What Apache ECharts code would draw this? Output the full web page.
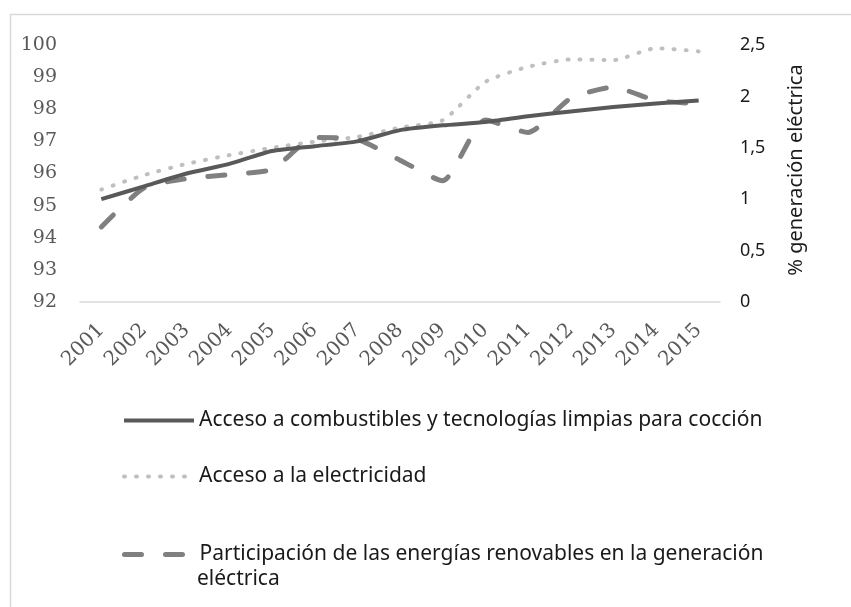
<!DOCTYPE html>
<html>
<head>
<meta charset="utf-8">
<script src="https://cdn.jsdelivr.net/npm/echarts@6/dist/echarts.min.js"></script>
<style>
  html, body { margin: 0; padding: 0; background: #fff; }
  #main { width: 851px; height: 607px; }
</style>
</head>
<body>
<div id="main"></div>
<script>
var years = ['2001','2002','2003','2004','2005','2006','2007','2008','2009','2010','2011','2012','2013','2014','2015'];
// % acceso (eje izquierdo)
var coccion = [95.2, 95.6, 96.0, 96.3, 96.7, 96.85, 97.0, 97.35, 97.5, 97.6, 97.78, 97.93, 98.07, 98.18, 98.27];
var electricidad = [95.5, 95.95, 96.3, 96.57, 96.8, 96.99, 97.14, 97.43, 97.66, 98.85, 99.32, 99.55, 99.53, 99.9, 99.8];
// % generación eléctrica (eje derecho)
var renovables = [0.73, 1.11, 1.2, 1.24, 1.29, 1.6, 1.58, 1.38, 1.18, 1.77, 1.65, 1.98, 2.09, 1.96, 1.93];
var leftTicks = [92, 100, 1];
var rightTicks = [0, 2.5, 0.5];

var names = [
  'Acceso a combustibles y tecnologías limpias para cocción',
  'Acceso a la electricidad',
  'Participación de las energías renovables en la generación eléctrica'
];

var chart = echarts.init(document.getElementById('main'));

var legendText = {
  fontFamily: 'Noto Sans',
  fontSize: 21,
  color: '#1a1a1a'
};

function legendBox(name, top, w, fmt) {
  return {
    data: [name], left: 122, top: top, itemWidth: 70, itemHeight: 14,
    itemGap: 0, padding: 0, textStyle: legendText,
    itemStyle: { opacity: 0 },
    lineStyle: { width: w },
    formatter: fmt
  };
}

option = {
  animation: false,
  grid: { left: 80, right: 131, top: 45, bottom: 305 },
  legend: [
    legendBox(names[0], 410, 4),
    legendBox(names[1], 466, 4),
    legendBox(names[2], 544, 5, function () {
      return 'Participación de las energías renovables en la generación';
    })
  ],
  graphic: [
    { type: 'line', shape: { x1: 10.5, y1: 14, x2: 10.5, y2: 607 }, style: { stroke: '#d9d9d9', lineWidth: 1.5 } },
    { type: 'line', shape: { x1: 10, y1: 14.5, x2: 851, y2: 14.5 }, style: { stroke: '#d9d9d9', lineWidth: 1.5 } },
    {
      type: 'text', left: 197, top: 569,
      style: { text: 'eléctrica', fontFamily: 'Noto Sans', fontSize: 21, fill: '#1a1a1a' }
    }
  ],
  xAxis: {
    type: 'category',
    data: years,
    boundaryGap: true,
    axisLine: { lineStyle: { color: '#d9d9d9', width: 1.5 } },
    axisTick: { show: false },
    axisLabel: {
      rotate: 45, margin: 25, color: '#595959',
      fontFamily: 'DejaVu Serif', fontSize: 20, interval: 0
    }
  },
  yAxis: [
    {
      type: 'value', position: 'left',
      min: leftTicks[0], max: leftTicks[1], interval: leftTicks[2],
      splitLine: { show: false },
      axisLine: { show: false }, axisTick: { show: false },
      axisLabel: { margin: 23, color: '#595959', fontFamily: 'DejaVu Serif', fontSize: 19 }
    },
    {
      type: 'value', position: 'right',
      min: rightTicks[0], max: rightTicks[1], interval: rightTicks[2],
      splitLine: { show: false },
      axisLine: { show: false }, axisTick: { show: false },
      name: '% generación eléctrica',
      nameLocation: 'middle', nameRotate: 90, nameGap: 66,
      nameTextStyle: { color: '#1a1a1a', fontFamily: 'Noto Sans', fontSize: 20, padding: [0, 0, 0, 7] },
      axisLabel: {
        margin: 20, color: '#1a1a1a', fontFamily: 'Noto Sans', fontSize: 18,
        formatter: function (v) { return String(v).replace('.', ','); }
      }
    }
  ],
  series: [
    {
      name: names[0], type: 'line', yAxisIndex: 0, data: coccion,
      symbol: 'none', smooth: 0.2, z: 3,
      lineStyle: { color: '#595959', width: 4, type: 'solid' },
      itemStyle: { color: '#595959' }
    },
    {
      name: names[1], type: 'line', yAxisIndex: 0, data: electricidad,
      symbol: 'none', smooth: 0.2, z: 2,
      lineStyle: { color: '#bfbfbf', width: 4, type: [1, 11], cap: 'round' },
      itemStyle: { color: '#bfbfbf' }
    },
    {
      name: names[2], type: 'line', yAxisIndex: 1, data: renovables,
      symbol: 'none', smooth: 0.2, z: 2,
      lineStyle: { color: '#808080', width: 5, type: [17, 24], cap: 'round' },
      itemStyle: { color: '#808080' }
    }
  ]
};
chart.setOption(option);
</script>
</body>
</html>
